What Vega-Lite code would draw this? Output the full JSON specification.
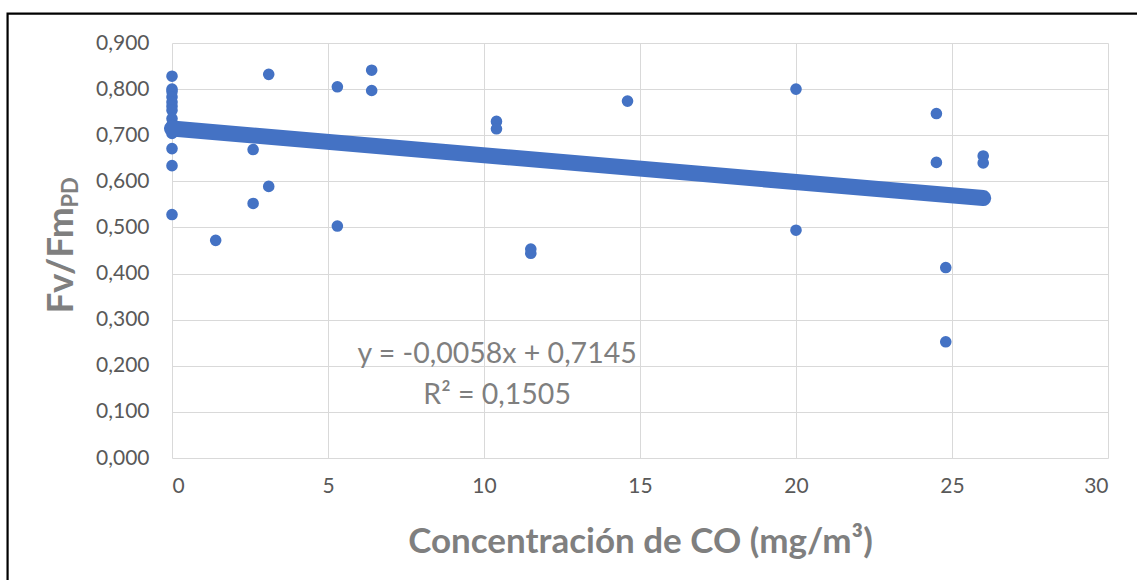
{
  "$schema": "https://vega.github.io/schema/vega-lite/v6.json",
  "width": 936,
  "height": 415,
  "autosize": {"type": "none"},
  "padding": {"left": 172, "top": 43, "right": 29, "bottom": 122},
  "background": "white",
  "config": {"view": {"stroke": null}, "font": "Lato"},
  "datasets": {
    "points": [
      {"co": 0, "fv": 0.828}, {"co": 0, "fv": 0.8}, {"co": 0, "fv": 0.795}, {"co": 0, "fv": 0.783},
      {"co": 0, "fv": 0.772}, {"co": 0, "fv": 0.763}, {"co": 0, "fv": 0.754}, {"co": 0, "fv": 0.736},
      {"co": 0, "fv": 0.722}, {"co": 0, "fv": 0.712}, {"co": 0, "fv": 0.704}, {"co": 0, "fv": 0.671},
      {"co": 0, "fv": 0.634}, {"co": 0, "fv": 0.528},
      {"co": 1.4, "fv": 0.472},
      {"co": 2.6, "fv": 0.669}, {"co": 2.6, "fv": 0.552},
      {"co": 3.1, "fv": 0.832}, {"co": 3.1, "fv": 0.589},
      {"co": 5.3, "fv": 0.805}, {"co": 5.3, "fv": 0.503},
      {"co": 6.4, "fv": 0.841}, {"co": 6.4, "fv": 0.797},
      {"co": 10.4, "fv": 0.73}, {"co": 10.4, "fv": 0.714},
      {"co": 11.5, "fv": 0.453}, {"co": 11.5, "fv": 0.444},
      {"co": 14.6, "fv": 0.774},
      {"co": 20, "fv": 0.8}, {"co": 20, "fv": 0.494},
      {"co": 24.5, "fv": 0.747}, {"co": 24.5, "fv": 0.641},
      {"co": 24.8, "fv": 0.413}, {"co": 24.8, "fv": 0.252},
      {"co": 26, "fv": 0.655}, {"co": 26, "fv": 0.64}, {"co": 26, "fv": 0.564}
    ],
    "trend": [
      {"co": 0, "fv": 0.7145},
      {"co": 26, "fv": 0.5637}
    ]
  },
  "layer": [
    {
      "data": {"name": "points"},
      "mark": {"type": "point", "filled": true, "shape": "circle", "size": 135, "color": "#4472C4", "opacity": 1},
      "encoding": {
        "x": {
          "field": "co", "type": "quantitative",
          "scale": {"domain": [0, 30], "nice": false},
          "axis": {
            "values": [0, 5, 10, 15, 20, 25, 30],
            "grid": true, "gridColor": "#d9d9d9", "gridWidth": 1,
            "domain": false, "ticks": false,
            "labelFontSize": 21, "labelColor": "#595959", "labelPadding": 17,
            "title": "Concentración de CO (mg/m³)",
            "titleFontSize": 35, "titleFontWeight": "bold", "titleColor": "#7f7f7f",
            "titleBaseline": "alphabetic", "titleY": 94, "titleX": 468
          }
        },
        "y": {
          "field": "fv", "type": "quantitative",
          "scale": {"domain": [0, 0.9], "nice": false},
          "axis": {
            "values": [0, 0.1, 0.2, 0.3, 0.4, 0.5, 0.6, 0.7, 0.8, 0.9],
            "labelExpr": "replace(format(datum.value, '.3f'), '.', ',')",
            "grid": true, "gridColor": "#d9d9d9", "gridWidth": 1,
            "domain": false, "ticks": false,
            "labelFontSize": 21, "labelColor": "#595959", "labelPadding": 23,
            "title": "Fv/Fm",
            "titleFontSize": 37, "titleFontWeight": "bold", "titleColor": "#7f7f7f",
            "titleAngle": 270, "titleAlign": "left", "titleBaseline": "alphabetic",
            "titleX": -100, "titleY": 270
          }
        }
      }
    },
    {
      "data": {"name": "trend"},
      "mark": {"type": "line", "color": "#4472C4", "strokeWidth": 16, "strokeCap": "round"},
      "encoding": {
        "x": {"field": "co", "type": "quantitative"},
        "y": {"field": "fv", "type": "quantitative"}
      }
    },
    {
      "data": {"values": [{}]},
      "mark": {"type": "text", "text": "y = -0,0058x + 0,7145", "fontSize": 28.5, "color": "#7f7f7f", "align": "center", "baseline": "alphabetic"},
      "encoding": {
        "x": {"datum": 10.42, "type": "quantitative"},
        "y": {"datum": 0.206, "type": "quantitative"}
      }
    },
    {
      "data": {"values": [{}]},
      "mark": {"type": "text", "text": "R² = 0,1505", "fontSize": 28.5, "color": "#7f7f7f", "align": "center", "baseline": "alphabetic"},
      "encoding": {
        "x": {"datum": 10.42, "type": "quantitative"},
        "y": {"datum": 0.117, "type": "quantitative"}
      }
    },
    {
      "data": {"values": [{}]},
      "mark": {"type": "text", "text": "PD", "fontSize": 22, "fontWeight": "bold", "color": "#7f7f7f", "angle": 270, "align": "left", "baseline": "alphabetic"},
      "encoding": {
        "x": {"datum": -3.0, "type": "quantitative"},
        "y": {"datum": 0.543, "type": "quantitative"}
      }
    },
    {
      "data": {"values": [{}]},
      "mark": {"type": "rect", "fill": null, "stroke": "black", "strokeWidth": 2.2},
      "encoding": {
        "x": {"datum": -5.27, "type": "quantitative"},
        "x2": {"datum": 40},
        "y": {"datum": 0.9636, "type": "quantitative"},
        "y2": {"datum": -1}
      }
    }
  ]
}
